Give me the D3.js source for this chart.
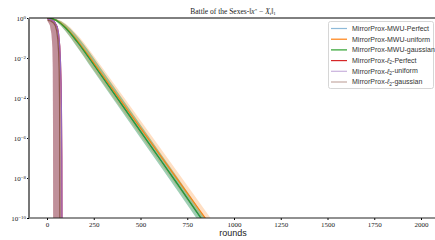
<!DOCTYPE html>
<html>
<head>
<meta charset="UTF-8">
<style>
  body { margin: 0; background: #fff; }
  .tick text { font: 7px "Liberation Serif", serif; fill: #222; }
  .leg { font: 7px "Liberation Sans", sans-serif; fill: #333; }
</style>
</head>
<body>
<svg id="chart" width="435" height="240"></svg>
<script src="https://d3js.org/d3.v7.min.js"></script>
<script>
// rounds sampled for the MWU curves, values as log10 of the error
const T_MWU = [0, 25, 50, 75, 100, 125, 150, 175, 200, 225, 300, 400, 500, 600, 700, 823, 900, 950];
const MWU_PERFECT  = [0, -0.03, -0.12, -0.28, -0.5, -0.76, -1.05, -1.35, -1.67, -2.0, -3.0, -4.33, -5.67, -7.0, -8.33, -10.0, -11.03, -11.7];
const MWU_UNIFORM  = [0, -0.03, -0.11, -0.26, -0.47, -0.72, -1.0, -1.29, -1.6, -1.92, -2.9, -4.2, -5.5, -6.8, -8.1, -9.7, -10.7, -11.35];
const MWU_GAUSSIAN = [0, -0.03, -0.12, -0.28, -0.5, -0.76, -1.05, -1.35, -1.67, -2.0, -3.0, -4.33, -5.67, -7.0, -8.33, -10.0, -11.03, -11.7];
// band half widths (decades) for the MWU runs
const MWU_UNI_SPREAD   = [0, 0.02, 0.06, 0.12, 0.18, 0.24, 0.28, 0.32, 0.34, 0.35, 0.36, 0.37, 0.37, 0.37, 0.37, 0.37, 0.37, 0.37];
const MWU_GAUSS_SPREAD = [0, 0.02, 0.06, 0.12, 0.17, 0.22, 0.26, 0.29, 0.31, 0.32, 0.33, 0.33, 0.33, 0.33, 0.33, 0.33, 0.33, 0.33];

// l2 runs collapse fast
const T_L2      = [2, 20, 40, 55, 62, 68, 72, 75, 77, 79, 80];
const L2_PERFECT = [-0.05, -0.08, -0.2, -0.45, -0.8, -1.4, -2.2, -3.2, -4.5, -7.0, -11.0];
const L2_UNIFORM = [-0.05, -0.08, -0.2, -0.45, -0.8, -1.4, -2.2, -3.2, -4.5, -7.0, -11.0];
const T_L2G      = [3, 20, 35, 45, 52, 58, 62, 65, 67, 68, 69];
const L2_GAUSSIAN = [-0.12, -0.15, -0.25, -0.4, -0.65, -1.1, -1.7, -2.6, -4.0, -6.0, -11.0];
// l2 band edges as [round, log10]
const L2_BAND_LEFT  = [[3, -0.15], [15, -0.35], [24, -0.8], [29, -1.5], [31, -2.5], [32, -5], [33, -11]];
const L2_BAND_RIGHT = [[8, -0.03], [40, -0.12], [58, -0.5], [66, -1.2], [71, -2.5], [73, -5], [74, -11]];

const X_TICKS = [0, 250, 500, 750, 1000, 1250, 1500, 1750, 2000];
const Y_TICKS = [0, -2, -4, -6, -8, -10];

const NAMES = ["MirrorProx-MWU-Perfect", "MirrorProx-MWU-uniform", "MirrorProx-MWU-gaussian",
               "MirrorProx-ℓ2-Perfect", "MirrorProx-ℓ2-uniform", "MirrorProx-ℓ2-gaussian"];
const COLORS = ["#1f77b4", "#ff7f0e", "#2ca02c", "#d62728", "#9467bd", "#8c564b"];
const LEG_OPAC = [0.5, 1, 1, 1, 0.5, 0.5];

const L = 29, R = 435, T = 18, B = 218;
const x = d3.scaleLinear().domain([0, 2000]).range([47, 421]);
const y = d3.scaleLog().domain([1e-10, 1]).range([B, T]);
const yl = v => y(Math.pow(10, v));

const svg = d3.select("#chart");
svg.append("clipPath").attr("id", "clip")
  .append("rect").attr("x", L).attr("y", T).attr("width", R - L).attr("height", B - T);
const g = svg.append("g").attr("clip-path", "url(#clip)");

const line = d3.line().x(d => x(d[0])).y(d => yl(d[1]));
const zip = (ts, vs) => ts.map((t, i) => [t, vs[i]]);
const band = (ts, vs, sp) => d3.area().x((d, i) => x(ts[i]))
  .y0((d, i) => yl(vs[i] - sp[i])).y1((d, i) => yl(vs[i] + sp[i]))(ts);

// bands
g.append("path").attr("d", band(T_MWU, MWU_PERFECT, MWU_GAUSS_SPREAD)).attr("fill", COLORS[0]).attr("opacity", 0.2);
g.append("path").attr("d", band(T_MWU, MWU_UNIFORM, MWU_UNI_SPREAD)).attr("fill", COLORS[1]).attr("opacity", 0.25);
g.append("path").attr("d", band(T_MWU, MWU_GAUSSIAN, MWU_GAUSS_SPREAD)).attr("fill", COLORS[2]).attr("opacity", 0.3);
const l2Band = line(L2_BAND_LEFT.concat(L2_BAND_RIGHT.slice().reverse())) + "Z";
[[3, 0.25], [4, 0.25], [5, 0.35]].forEach(([c, o]) => {
  g.append("path").attr("d", l2Band).attr("fill", COLORS[c]).attr("opacity", o);
});

// lines
const series = [
  [T_MWU, MWU_PERFECT], [T_MWU, MWU_UNIFORM], [T_MWU, MWU_GAUSSIAN],
  [T_L2, L2_PERFECT], [T_L2, L2_UNIFORM], [T_L2G, L2_GAUSSIAN]
];
series.forEach(([ts, vs], i) => {
  g.append("path").attr("d", line(zip(ts, vs))).attr("fill", "none")
    .attr("stroke", COLORS[i]).attr("stroke-width", 1.2);
});

// axes
const xAxis = svg.append("g").attr("transform", `translate(0,${B})`)
  .call(d3.axisBottom(x).tickValues(X_TICKS).tickSize(2).tickPadding(2).tickFormat(d3.format("d")));
xAxis.select(".domain").remove();
const yAxis = svg.append("g").attr("transform", `translate(${L},0)`)
  .call(d3.axisLeft(y).tickValues(Y_TICKS.map(v => Math.pow(10, v))).tickSize(2).tickPadding(2).tickFormat(""));
yAxis.select(".domain").remove();
yAxis.selectAll(".tick").each(function(d, i) {
  const t = d3.select(this).append("text").attr("x", -3).attr("dy", "0.32em")
    .attr("text-anchor", "end").attr("fill", "#222");
  t.append("tspan").text("10");
  t.append("tspan").attr("font-size", "5px").attr("dy", "-0.45em").text(Y_TICKS[i] === 0 ? "0" : "−" + (-Y_TICKS[i]));
});

svg.append("line").attr("x1", L).attr("x2", R).attr("y1", T).attr("y2", T).attr("stroke", "#000").attr("stroke-width", 1);
svg.append("line").attr("x1", L).attr("x2", R).attr("y1", B).attr("y2", B).attr("stroke", "#222").attr("stroke-width", 1);
svg.append("line").attr("x1", L).attr("x2", L).attr("y1", T).attr("y2", B).attr("stroke", "#777").attr("stroke-width", 2);

// title
const title = svg.append("text").attr("x", 233).attr("y", 14).attr("text-anchor", "middle")
  .attr("font-family", "Liberation Serif, serif").attr("font-size", "7.5px").attr("fill", "#222");
title.append("tspan").text("Battle of the Sexes-‖");
title.append("tspan").attr("font-style", "italic").text("x");
title.append("tspan").attr("font-size", "5px").attr("dy", "-0.5em").text("*");
title.append("tspan").attr("dy", "0.35em").text(" − ");
title.append("tspan").attr("font-style", "italic").text("X");
title.append("tspan").attr("font-size", "5px").attr("font-style", "italic").attr("dy", "0.2em").text("t");
title.append("tspan").attr("dy", "-0.2em").text("‖");
title.append("tspan").attr("font-size", "5px").attr("dy", "0.2em").text("1");

// x label
svg.append("text").attr("x", 233).attr("y", 236).attr("text-anchor", "middle")
  .attr("font-family", "Liberation Sans, sans-serif").attr("font-size", "9px").attr("fill", "#222").text("rounds");

// legend
const leg = svg.append("g");
leg.append("rect").attr("x", 328.5).attr("y", 21.5).attr("width", 105).attr("height", 67).attr("rx", 2)
  .attr("fill", "#fff").attr("stroke", "#ccc").attr("stroke-width", 0.8);
NAMES.forEach((n, i) => {
  const yy = 28.5 + i * 10.7;
  leg.append("line").attr("x1", 331).attr("x2", 347).attr("y1", yy).attr("y2", yy)
    .attr("stroke", COLORS[i]).attr("stroke-width", 1.2).attr("opacity", LEG_OPAC[i]);
  const t = leg.append("text").attr("class", "leg").attr("x", 352).attr("y", yy).attr("dy", "0.35em");
  if (n.includes("ℓ2")) {
    const [a, b] = n.split("ℓ2");
    t.append("tspan").text(a);
    t.append("tspan").attr("font-style", "italic").text("ℓ");
    t.append("tspan").attr("font-size", "5px").attr("dy", "0.25em").text("2");
    t.append("tspan").attr("dy", "-0.25em").text(b);
  } else {
    t.text(n);
  }
});
</script>
</body>
</html>
